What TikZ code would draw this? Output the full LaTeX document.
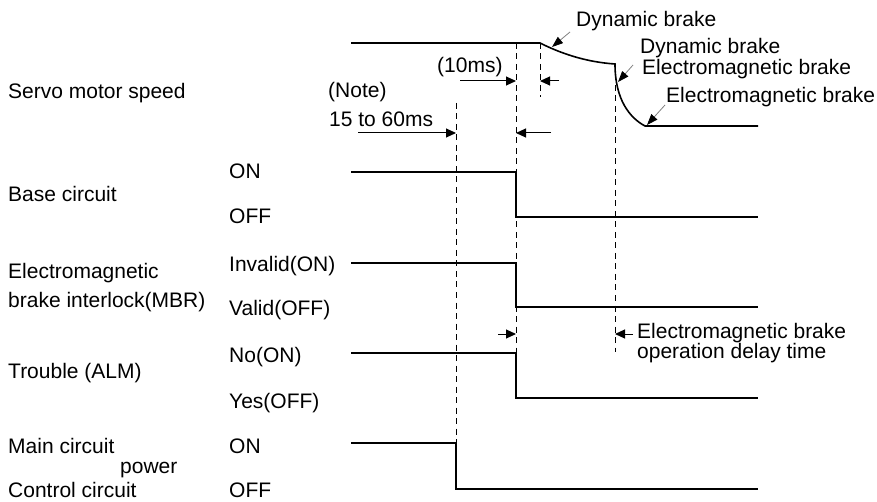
\documentclass[tikz,border=0pt]{standalone}
\usepackage{fontspec}
\setmainfont{Liberation Sans}
\usetikzlibrary{arrows.meta}
\begin{document}
\begin{tikzpicture}[x=1pt,y=-1pt,
  lbl/.style={anchor=base west,inner sep=0pt,font=\fontsize{21}{25}\selectfont},
  sig/.style={line width=1.6pt,line join=miter},
  guide/.style={line width=1pt,dash pattern=on 6pt off 4.5pt},
  dim/.style={line width=1pt,-{Triangle[length=10pt,width=9pt]}},
  leader/.style={gray,line width=0.8pt,-{Triangle[length=11pt,width=8pt,color=black]}}]
\useasboundingbox (0,0) rectangle (877,502);

% signal names
\node[lbl] (speed) at (8,99) {Servo motor speed};
\node[lbl] (base) at (8,202) {Base circuit};
\node[lbl] (mbr1) at (8,279) {Electromagnetic};
\node[lbl] (mbr2) at (8,308) {brake interlock(MBR)};
\node[lbl] (alm) at (8,378) {Trouble (ALM)};
\node[lbl] (main1) at (8,453) {Main circuit};
\node[lbl] (main2) at (120,473) {power};
\node[lbl] (main3) at (8,497) {Control circuit};

% signal states
\node[lbl] (bon) at (229,179) {ON};
\node[lbl] (boff) at (229,224) {OFF};
\node[lbl] (mon) at (229,272) {Invalid(ON)};
\node[lbl] (moff) at (229,316) {Valid(OFF)};
\node[lbl] (aon) at (229,362) {No(ON)};
\node[lbl] (aoff) at (229,408) {Yes(OFF)};
\node[lbl] (pon) at (229,453) {ON};
\node[lbl] (poff) at (229,497) {OFF};

% timing references
\coordinate (tA) at (456,0);
\coordinate (tB) at (516,0);
\coordinate (tC) at (540,0);
\coordinate (tD) at (615,0);

% dashed time markers
\draw[guide] (tA |- 0,103) -- (tA |- 0,443);
\draw[guide] (tB |- 0,43) -- (tB |- 0,353);
\draw[guide] (tC |- 0,43) -- (tC |- 0,97);
\draw[guide] (tD |- 0,64) -- (tD |- 0,352);

% servo motor speed
\coordinate (s0) at (351,43);
\coordinate (s1) at (540,43);
\coordinate (s2) at (615,64);
\coordinate (s3) at (645,126);
\coordinate (s4) at (758,126);
\draw[sig] (s0) -- (s1) .. controls (560,53) and (585,62) .. (s2)
  .. controls (615,100) and (630,118) .. (s3) -- (s4);

% base circuit
\draw[sig] (351,172) -- (tB |- 0,172) -- (tB |- 0,217) -- (758,217);
% electromagnetic brake interlock
\draw[sig] (351,263) -- (tB |- 0,263) -- (tB |- 0,307) -- (758,307);
% trouble
\draw[sig] (351,353) -- (tB |- 0,353) -- (tB |- 0,398) -- (758,398);
% main / control circuit power
\draw[sig] (351,443) -- (tA |- 0,443) -- (tA |- 0,489) -- (758,489);

% interval dimensions
\node[lbl] (note1) at (328,98) {(Note)};
\node[lbl] (note2) at (329,127) {15 to 60ms};
\draw[dim] (358,133) -- (tA |- 0,133);
\draw[dim] (551,133) -- (tB |- 0,133);

\node[lbl] (ten) at (437,73) {(10ms)};
\draw[dim] (460,81) -- (tB |- 0,81);
\draw[dim] (559,81) -- (tC |- 0,81);

\node[lbl] (dly1) at (637,338) {Electromagnetic brake};
\node[lbl] (dly2) at (637,358) {operation delay time};
\draw[dim] (498,334) -- (tB |- 0,334);
\draw[dim] (633,334) -- (tD |- 0,334);

% braking annotations
\node[lbl] (db1) at (576,27) {Dynamic brake};
\draw[leader] (570,32) -- (552,47);
\node[lbl] (db2) at (640,54) {Dynamic brake};
\node[lbl] (eb2) at (642,75) {Electromagnetic brake};
\draw[leader] (633,65) -- (618,82);
\node[lbl] (eb3) at (666,103) {Electromagnetic brake};
\draw[leader] (665,105) -- (647,125);
\end{tikzpicture}
\end{document}
